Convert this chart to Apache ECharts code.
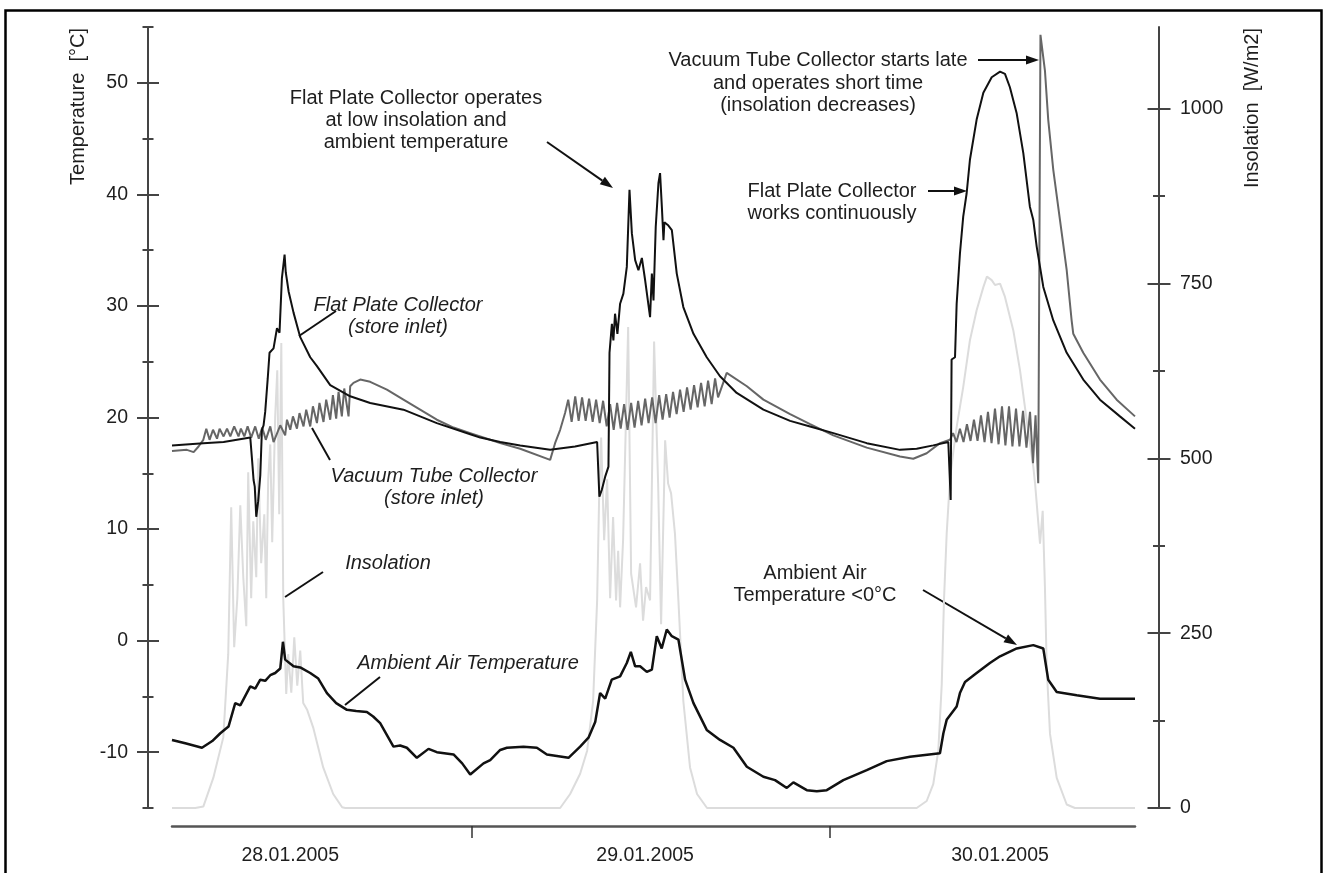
<!DOCTYPE html>
<html>
<head>
<meta charset="utf-8">
<title>Flat plate vs vacuum tube collector, 28.-30.01.2005</title>
<script src="https://cdn.jsdelivr.net/npm/echarts@6/dist/echarts.min.js"></script>
<style>
  html, body { margin: 0; padding: 0; background: #fff; }
  #chart { width: 1325px; height: 873px; }
</style>
</head>
<body>
<div id="chart"></div>
<script>
// x values are hours counted from 28.01.2005 00:00
const dayTicks = [24, 48]
const dayLabelHours = [11.8, 35.6, 59.4]
const dayLabelNames = ['28.01.2005', '29.01.2005', '30.01.2005']

const tempMajor = [-10, 0, 10, 20, 30, 40, 50]
const tempMinor = [-15, -5, 5, 15, 25, 35, 45, 55]
const insMajor = [0, 250, 500, 750, 1000]
const insMinor = [125, 375, 625, 875]

// Flat Plate Collector (store inlet), °C
const flatPlate = [
  [3.87, 17.5], [5.97, 17.7], [7.33, 17.8], [9.12, 18.2], [9.25, 16.0], [9.34, 14.4], [9.42, 13.8],
  [9.52, 11.1], [9.65, 12.5], [9.79, 14.8], [9.90, 18.9], [10.01, 19.3], [10.12, 20.5], [10.29, 23.5],
  [10.41, 25.8], [10.68, 26.2], [10.91, 28.0], [11.08, 27.6], [11.24, 32.5], [11.42, 34.6], [11.50, 33.0],
  [11.58, 32.3], [11.69, 31.3], [12.02, 29.4], [12.47, 27.2], [13.14, 25.4], [13.59, 24.6], [14.48, 22.9],
  [15.82, 21.9], [17.16, 21.3], [19.39, 20.7], [21.63, 19.5], [23.87, 18.5], [24.54, 18.2], [25.88, 17.8],
  [27.22, 17.5], [29.23, 17.1], [30.90, 17.4], [32.38, 17.8],
  [32.53, 12.9], [32.69, 13.5], [32.92, 14.7], [33.14, 15.6], [33.21, 25.8], [33.37, 28.4], [33.47, 26.9],
  [33.58, 29.3], [33.74, 27.5], [33.92, 30.2], [34.14, 31.1], [34.37, 33.5], [34.55, 40.4], [34.71, 36.5],
  [34.93, 34.1], [35.15, 33.2], [35.38, 34.3], [35.60, 32.3], [35.93, 29.0], [36.05, 32.9], [36.16, 30.5],
  [36.31, 37.1], [36.49, 41.0], [36.60, 41.9], [36.72, 38.9], [36.83, 35.9], [36.89, 37.5], [37.16, 37.2],
  [37.39, 36.8], [37.72, 32.9], [38.16, 29.9], [38.84, 27.5], [39.73, 25.4], [40.62, 23.7], [41.74, 22.2],
  [43.53, 20.7], [45.32, 19.7], [46.66, 19.2], [48.22, 18.6], [50.46, 17.7], [52.69, 17.1], [53.81, 17.2],
  [54.92, 17.5], [55.93, 17.8],
  [56.09, 12.6], [56.15, 25.2], [56.38, 25.4], [56.49, 30.2], [56.71, 34.7], [56.93, 38.0], [57.16, 40.1],
  [57.38, 43.1], [57.83, 46.7], [58.28, 49.1], [58.84, 50.5], [59.40, 51.0], [59.73, 50.8], [60.06, 49.6],
  [60.51, 47.3], [60.96, 43.7], [61.40, 38.9], [61.63, 37.7], [61.86, 35.3], [62.30, 31.7], [62.97, 28.7],
  [63.87, 25.8], [64.98, 23.4], [66.10, 21.6], [67.44, 20.1], [68.45, 19.0]
]

// Vacuum Tube Collector (store inlet), °C
const vacuumTube = [
  [3.87, 17.0], [4.87, 17.1], [5.32, 16.9], [5.65, 17.4], [5.97, 18.0], [6.17, 19.0], [6.39, 18.0],
  [6.62, 18.9], [6.89, 18.1], [7.06, 19.0], [7.33, 18.3], [7.56, 19.0], [7.78, 18.3], [8.04, 19.2],
  [8.33, 18.3], [8.49, 19.0], [8.72, 18.3], [8.94, 19.2], [9.18, 18.2], [9.45, 19.2], [9.69, 18.1],
  [9.92, 19.1], [10.16, 18.0], [10.46, 19.2], [10.68, 17.8], [11.13, 19.3], [11.46, 18.4], [11.58, 19.8],
  [11.80, 18.9], [11.98, 20.1], [12.25, 19.0], [12.42, 20.4], [12.69, 19.2], [12.87, 20.7], [13.14, 19.2],
  [13.32, 21.0], [13.59, 19.5], [13.76, 21.3], [14.03, 19.6], [14.21, 21.6], [14.48, 19.8], [14.66, 22.0],
  [14.88, 19.9], [15.04, 22.3], [15.26, 20.1], [15.42, 22.6], [15.71, 20.1], [15.82, 22.8], [16.04, 23.1],
  [16.49, 23.4], [17.16, 23.2], [18.28, 22.5], [19.39, 21.6], [20.51, 20.7], [21.63, 19.8], [22.75, 19.1],
  [23.87, 18.6], [25.21, 18.0], [25.88, 17.7], [27.22, 17.2], [29.23, 16.2],
  [29.56, 17.7], [29.90, 18.9], [30.23, 20.4], [30.44, 21.6], [30.67, 19.6], [30.91, 21.9], [31.14, 19.7],
  [31.37, 21.8], [31.61, 19.7], [31.84, 21.7], [32.08, 19.6], [32.31, 21.6], [32.55, 19.5], [32.78, 21.5],
  [33.02, 19.2], [33.25, 21.2], [33.49, 18.9], [33.72, 21.3], [33.96, 19.0], [34.19, 21.2], [34.42, 18.9],
  [34.66, 21.3], [34.89, 19.1], [35.13, 21.5], [35.36, 19.3], [35.60, 21.7], [35.83, 19.5], [36.07, 21.8],
  [36.30, 19.5], [36.54, 22.0], [36.77, 19.8], [37.01, 22.1], [37.24, 20.0], [37.47, 22.3], [37.71, 20.3],
  [37.94, 22.5], [38.18, 20.5], [38.41, 22.7], [38.65, 20.7], [38.88, 22.9], [39.12, 20.9], [39.35, 23.1],
  [39.59, 21.0], [39.82, 23.3], [40.06, 21.2], [40.29, 23.5], [40.49, 21.8], [41.07, 24.0], [42.42, 22.8],
  [43.53, 21.6], [45.32, 20.3], [46.66, 19.4], [48.22, 18.4], [50.46, 17.3], [52.69, 16.5], [53.58, 16.3],
  [54.48, 16.8], [55.37, 17.7], [56.04, 18.0],
  [56.25, 18.6], [56.48, 17.8], [56.71, 19.0], [56.95, 17.8], [57.18, 19.4], [57.42, 17.9], [57.65, 19.8],
  [57.89, 17.9], [58.12, 20.2], [58.36, 17.8], [58.59, 20.5], [58.83, 17.7], [59.06, 20.8], [59.30, 17.6],
  [59.53, 21.0], [59.76, 17.5], [60.00, 21.0], [60.23, 17.4], [60.47, 20.8], [60.70, 17.4], [60.94, 20.6],
  [61.17, 17.3], [61.41, 20.5], [61.61, 15.9], [61.78, 20.2], [61.96, 14.1], [62.11, 54.3], [62.41, 51.1],
  [62.63, 46.7], [62.97, 42.2], [63.42, 37.7], [63.87, 33.2], [64.20, 28.7], [64.31, 27.5], [64.98, 25.8],
  [66.10, 23.4], [67.22, 21.6], [68.45, 20.1]
]

// Ambient Air Temperature, °C
const ambientAir = [
  [3.87, -8.9], [4.76, -9.2], [5.88, -9.6], [6.57, -9.0], [7.11, -8.3], [7.66, -7.7], [8.11, -5.6],
  [8.45, -5.8], [9.12, -4.1], [9.45, -4.3], [9.79, -3.5], [10.12, -3.6], [10.46, -3.1], [10.79, -2.9],
  [11.13, -2.5], [11.31, -0.1], [11.46, -1.7], [12.02, -2.3], [12.47, -2.4], [13.14, -2.9], [13.68, -3.4],
  [14.26, -4.7], [14.88, -5.6], [15.60, -6.2], [16.22, -6.3], [16.94, -6.4], [17.36, -6.8], [17.83, -7.4],
  [18.72, -9.5], [19.17, -9.4], [19.62, -9.6], [20.29, -10.5], [21.07, -9.7], [21.63, -10.0], [22.75, -10.2],
  [23.33, -11.0], [23.87, -12.0], [24.76, -11.0], [25.21, -10.7], [25.88, -9.8], [26.33, -9.6], [27.44, -9.5],
  [28.34, -9.6], [29.01, -10.2], [30.46, -10.5], [31.24, -9.5], [31.80, -8.7], [32.25, -7.3], [32.58, -4.7],
  [32.92, -5.2], [33.36, -3.5], [33.92, -3.2], [34.37, -2.0], [34.64, -1.0], [34.93, -2.3], [35.26, -2.3],
  [35.71, -2.8], [36.05, -2.6], [36.38, 0.4], [36.71, -0.7], [37.05, 1.0], [37.39, 0.4], [37.83, 0.1],
  [38.28, -3.5], [38.84, -5.6], [39.73, -8.0], [40.62, -8.9], [41.52, -9.6], [42.42, -11.3], [43.53, -12.2],
  [44.31, -12.5], [45.10, -13.2], [45.54, -12.7], [46.44, -13.4], [47.11, -13.5], [47.78, -13.4],
  [48.89, -12.5], [50.46, -11.6], [51.80, -10.8], [53.36, -10.4], [55.37, -10.1], [55.60, -8.3],
  [55.82, -7.1], [56.49, -5.9], [56.71, -4.7], [57.05, -3.7], [57.83, -2.9], [58.72, -2.0], [59.40, -1.4],
  [60.52, -0.7], [61.63, -0.4], [62.30, -0.7], [62.63, -3.5], [63.20, -4.6], [64.54, -4.9], [66.10, -5.2],
  [68.45, -5.2]
]

// Insolation, W/m2
const insolation = [
  [3.87, 0], [5.43, 0], [5.97, 2], [6.64, 43], [7.31, 101], [7.64, 220], [7.84, 430], [8.04, 230],
  [8.25, 300], [8.45, 433], [8.65, 330], [8.85, 260], [8.98, 480], [9.18, 300], [9.32, 410], [9.52, 330],
  [9.65, 500], [9.85, 350], [10.06, 420], [10.19, 300], [10.32, 470], [10.46, 520], [10.59, 380],
  [10.79, 560], [10.93, 626], [11.06, 420], [11.20, 665], [11.33, 300], [11.53, 163], [11.66, 220],
  [11.87, 165], [12.07, 244], [12.27, 175], [12.47, 225], [12.67, 150], [12.94, 140], [13.34, 115],
  [14.01, 58], [14.68, 20], [15.28, 1], [15.49, 0],
  [29.90, 0], [30.57, 20], [31.24, 49], [31.71, 82], [32.11, 153], [32.38, 297], [32.51, 440],
  [32.65, 530], [32.85, 383], [33.05, 470], [33.25, 300], [33.45, 416], [33.65, 297], [33.79, 368],
  [33.92, 287], [34.12, 383], [34.46, 688], [34.66, 335], [34.99, 287], [35.26, 350], [35.46, 268],
  [35.66, 316], [35.93, 297], [36.20, 667], [36.47, 464], [36.67, 263], [36.94, 526], [37.14, 464],
  [37.34, 450], [37.60, 392], [37.83, 297], [38.16, 153], [38.61, 58], [39.08, 20], [39.75, 0],
  [53.81, 0], [54.48, 10], [54.92, 34], [55.26, 82], [55.49, 177], [55.64, 297], [55.82, 392],
  [56.04, 470], [56.27, 510], [56.49, 545], [56.93, 602], [57.38, 669], [57.83, 712], [58.28, 745],
  [58.52, 760], [58.84, 755], [59.06, 748], [59.40, 750], [59.73, 731], [60.29, 683], [60.74, 626],
  [61.19, 554], [61.63, 488], [61.75, 464], [62.08, 378], [62.26, 425], [62.41, 316], [62.53, 201],
  [62.75, 106], [63.20, 43], [63.87, 5], [64.42, 0], [68.45, 0]
]

const FONT = '"Liberation Sans", Arial, Helvetica, sans-serif'
const AXIS_COLOR = '#444'
const TEXT_COLOR = '#1e1e1e'

// one axis part: ticks drawn from both sides of the line need two axes each
function yPart (pos, min, max, extra) {
  return Object.assign({
    type: 'value',
    position: pos,
    offset: 24,
    min: min,
    max: max,
    axisLine: { show: false },
    splitLine: { show: false },
    axisLabel: { show: false },
    axisTick: { show: false }
  }, extra)
}

function ticks (values, len, inside) {
  return {
    show: true,
    customValues: values,
    length: len,
    inside: inside,
    lineStyle: { color: AXIS_COLOR, width: 2 }
  }
}

function label (x, y, text, italic, align) {
  return {
    type: 'text',
    x: x,
    y: y,
    silent: true,
    style: {
      text: text,
      fontFamily: FONT,
      fontSize: 20,
      fontStyle: italic ? 'italic' : 'normal',
      fill: TEXT_COLOR,
      textAlign: align || 'center',
      textVerticalAlign: 'middle'
    }
  }
}

function line (x1, y1, x2, y2) {
  return {
    type: 'line',
    silent: true,
    shape: { x1: x1, y1: y1, x2: x2, y2: y2 },
    style: { stroke: '#111', lineWidth: 2 }
  }
}

function arrow (x1, y1, x2, y2) {
  const len = Math.hypot(x2 - x1, y2 - y1)
  const ux = (x2 - x1) / len
  const uy = (y2 - y1) / len
  const bx = x2 - ux * 13
  const by = y2 - uy * 13
  return [
    line(x1, y1, bx, by),
    {
      type: 'polygon',
      silent: true,
      shape: { points: [[x2, y2], [bx - uy * 4.5, by + ux * 4.5], [bx + uy * 4.5, by - ux * 4.5]] },
      style: { fill: '#111' }
    }
  ]
}

const graphics = [
  {
    type: 'rect',
    silent: true,
    shape: { x: 5.5, y: 10.5, width: 1316, height: 900 },
    style: { fill: 'none', stroke: '#000', lineWidth: 2.5 }
  },
  {
    type: 'text', x: 78, y: 28, rotation: Math.PI / 2, silent: true,
    style: { text: 'Temperature  [°C]', fontFamily: FONT, fontSize: 20, fill: TEXT_COLOR, textAlign: 'right', textVerticalAlign: 'middle' }
  },
  {
    type: 'text', x: 1252, y: 28, rotation: Math.PI / 2, silent: true,
    style: { text: 'Insolation  [W/m2]', fontFamily: FONT, fontSize: 20, fill: TEXT_COLOR, textAlign: 'right', textVerticalAlign: 'middle' }
  },

  label(416, 98, 'Flat Plate Collector operates'),
  label(416, 120, 'at low insolation and'),
  label(416, 142, 'ambient temperature'),
  ...arrow(547, 142, 613, 188),

  label(818, 60, 'Vacuum Tube Collector starts late'),
  label(818, 83, 'and operates short time'),
  label(818, 105, '(insolation decreases)'),
  ...arrow(978, 60, 1039, 60),

  label(832, 191, 'Flat Plate Collector'),
  label(832, 213, 'works continuously'),
  ...arrow(928, 191, 967, 191),

  label(398, 305, 'Flat Plate Collector', true),
  label(398, 327, '(store inlet)', true),
  line(299, 336, 336, 311),

  label(434, 476, 'Vacuum Tube Collector', true),
  label(434, 498, '(store inlet)', true),
  line(312, 428, 330, 460),

  label(388, 563, 'Insolation', true),
  line(285, 597, 323, 572),

  label(468, 663, 'Ambient Air Temperature', true),
  line(345, 705, 380, 677),

  label(815, 573, 'Ambient Air'),
  label(815, 595, 'Temperature <0°C'),
  ...arrow(923, 590, 1017, 645)
]

const chart = echarts.init(document.getElementById('chart'))

const option = {
  animation: false,
  backgroundColor: '#fff',
  grid: {
    left: 172,
    right: 190,
    top: 27,
    bottom: 65,
    outerBoundsMode: 'none'
  },
  xAxis: {
    type: 'value',
    min: 3.87,
    max: 68.45,
    offset: 18,
    axisLine: { onZero: false, lineStyle: { color: '#555', width: 2.5 } },
    axisTick: {
      customValues: dayTicks,
      length: 12,
      lineStyle: { color: '#333', width: 1.5 }
    },
    axisLabel: {
      customValues: dayLabelHours,
      formatter: v => dayLabelNames[dayLabelHours.indexOf(v)] || '',
      margin: 20,
      fontFamily: FONT,
      fontSize: 19.5,
      color: TEXT_COLOR
    },
    splitLine: { show: false }
  },
  yAxis: [
    yPart('left', -15, 55, {
      axisLine: { show: true, lineStyle: { color: AXIS_COLOR, width: 2 } },
      axisTick: ticks(tempMajor, 11, false),
      axisLabel: {
        show: true,
        customValues: tempMajor,
        formatter: v => String(v),
        margin: 20,
        fontFamily: FONT,
        fontSize: 19.5,
        color: TEXT_COLOR
      }
    }),
    yPart('left', -15, 55, { axisTick: ticks(tempMajor, 11, true) }),
    yPart('left', -15, 55, { axisTick: ticks(tempMinor, 5.5, false) }),
    yPart('left', -15, 55, { axisTick: ticks(tempMinor, 5.5, true) }),
    yPart('right', 0, 1117, {
      axisLine: { show: true, lineStyle: { color: AXIS_COLOR, width: 2 } },
      axisTick: ticks(insMajor, 11.5, false),
      axisLabel: {
        show: true,
        customValues: insMajor,
        formatter: v => String(v),
        margin: 21,
        fontFamily: FONT,
        fontSize: 19.5,
        color: TEXT_COLOR
      }
    }),
    yPart('right', 0, 1117, { axisTick: ticks(insMajor, 11.5, true) }),
    yPart('right', 0, 1117, { axisTick: ticks(insMinor, 6, false) }),
    yPart('right', 0, 1117, { axisTick: ticks(insMinor, 6, true) })
  ],
  series: [
    {
      name: 'Insolation',
      type: 'line',
      yAxisIndex: 4,
      data: insolation,
      showSymbol: false,
      silent: true,
      z: 1,
      lineStyle: { color: '#dcdcdc', width: 2 }
    },
    {
      name: 'Ambient Air Temperature',
      type: 'line',
      yAxisIndex: 0,
      data: ambientAir,
      showSymbol: false,
      silent: true,
      z: 3,
      lineStyle: { color: '#111', width: 2.5 }
    },
    {
      name: 'Vacuum Tube Collector',
      type: 'line',
      yAxisIndex: 0,
      data: vacuumTube,
      showSymbol: false,
      silent: true,
      z: 3,
      lineStyle: { color: '#666', width: 2 }
    },
    {
      name: 'Flat Plate Collector',
      type: 'line',
      yAxisIndex: 0,
      data: flatPlate,
      showSymbol: false,
      silent: true,
      z: 4,
      lineStyle: { color: '#111', width: 2 }
    }
  ],
  graphic: graphics
}

chart.setOption(option)
</script>
</body>
</html>
